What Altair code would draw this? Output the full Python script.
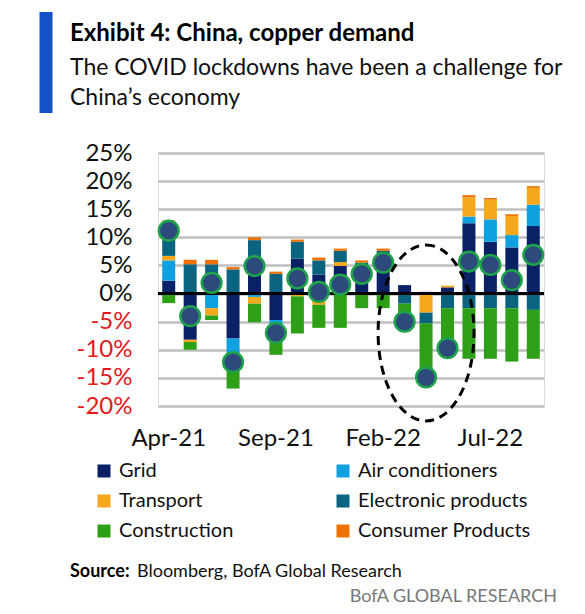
import altair as alt
import pandas as pd

months = ["Apr-21", "May-21", "Jun-21", "Jul-21", "Aug-21", "Sep-21", "Oct-21", "Nov-21", "Dec-21",
          "Jan-22", "Feb-22", "Mar-22", "Apr-22", "May-22", "Jun-22", "Jul-22", "Aug-22", "Sep-22"]
shown_months = ["Apr-21", "Sep-21", "Feb-22", "Jul-22"]

series_names = ["Grid", "Air conditioners", "Transport", "Electronic products", "Construction", "Consumer Products"]
series_colors = ["#0B2166", "#0FA0E0", "#F5A81C", "#0A6480", "#2EA017", "#EE7203"]

grid = [2.3, -8.2, 0.0, -8.0, 4.9, -4.7, 6.2, 3.4, 4.9, 4.3, 6.3, 1.5, 0.3, 1.1, 12.5, 9.2, 8.2, 12.0]
air = [3.6, 0.0, -2.6, -3.0, -0.6, -1.0, 0.0, 0.0, 0.0, 0.0, 0.0, 0.0, 0.0, 0.0, 1.2, 4.0, 2.2, 3.8]
transport = [0.8, -0.4, -1.3, 0.0, -1.2, 0.0, -0.5, -2.0, 0.7, 0.0, 0.0, 0.0, -3.4, 0.3, 3.4, 3.5, 3.4, 3.0]
electronic = [6.0, 5.2, 5.2, 4.3, 4.6, 3.5, 3.0, 2.5, 2.0, 1.2, 1.3, -1.8, -1.9, -2.6, -2.6, -2.6, -2.6, -2.9]
construction = [-1.7, -1.4, -0.8, -5.9, -3.3, -5.2, -6.6, -4.1, -6.1, -2.6, -2.6, -4.7, -9.9, -8.5, -9.0, -9.0, -9.5, -8.7]
consumer = [0.3, 0.8, 0.8, 0.4, 0.5, 0.4, 0.4, 0.5, 0.4, 0.4, 0.4, 0.0, 0.0, 0.0, 0.4, 0.3, 0.3, 0.3]
total = [11.2, -4.0, 1.9, -12.2, 4.9, -7.0, 2.7, 0.3, 1.6, 3.5, 5.5, -5.0, -14.9, -9.7, 5.7, 5.1, 2.4, 6.9]

y_ticks = [-20, -15, -10, -5, 0, 5, 10, 15, 20, 25]

highlight_month = ["Apr-22"]
highlight_value = [-7.0]

title_text = ["Exhibit 4: China, copper demand"]
subtitle_line1 = ["The COVID lockdowns have been a challenge for"]
subtitle_line2 = ["China\u2019s economy"]
source_label = ["Source:"]
source_text = ["Bloomberg, BofA Global Research"]
brand_text = ["BofA GLOBAL RESEARCH"]

FONT = "Lato"

# long table for stacked bars
rows = []
for si, (name, vals) in enumerate(zip(series_names, [grid, air, transport, electronic, construction, consumer])):
    for m, v in zip(months, vals):
        rows.append({"month": m, "series": name, "order": si, "value": v})
bars_df = pd.DataFrame(rows)
total_df = pd.DataFrame({"month": months, "total": total})
hl_df = pd.DataFrame({"month": highlight_month, "value": highlight_value})

x_axis = alt.Axis(values=shown_months, labelAngle=0, ticks=False, domain=False,
                  labelFontSize=24, labelFont=FONT, labelColor="#111111",
                  labelPadding=20, grid=False, labelOverlap=False)
x_scale = alt.Scale(paddingInner=0.4, paddingOuter=0.2)
y_axis = alt.Axis(values=y_ticks, labelExpr="datum.value + '%'", ticks=False, domain=False,
                  labelFontSize=24, labelFont=FONT, labelPadding=26, labelOverlap=False,
                  labelColor={"expr": "datum.value < 0 ? '#E3191C' : '#111111'"},
                  gridColor="#BFBFBF", gridWidth=2.5)
y_scale = alt.Scale(domain=[-20, 25], nice=False, zero=False)

bars = alt.Chart(bars_df).mark_bar(size=13).encode(
    x=alt.X("month:N", sort=months, title=None, scale=x_scale, axis=x_axis),
    y=alt.Y("value:Q", stack="zero", scale=y_scale, title=None, axis=y_axis),
    color=alt.Color("series:N", sort=series_names,
                    scale=alt.Scale(domain=series_names, range=series_colors),
                    legend=alt.Legend(title=None, orient="none", legendX=-64, legendY=308,
                                      direction="horizontal", columns=2, columnPadding=99,
                                      rowPadding=10,
                                      symbolType="square", symbolSize=169, symbolStrokeWidth=0,
                                      labelFontSize=20, labelFont=FONT, labelColor="#111111",
                                      labelOffset=5, labelLimit=300)),
    order=alt.Order("order:Q", sort="ascending"),
)

zero_line = alt.Chart(total_df).mark_rule(color="#000000", strokeWidth=2.5).encode(
    y=alt.datum(0, scale=y_scale, axis=y_axis, title=None)
)

dots = alt.Chart(total_df).mark_circle(size=390, opacity=1, fill="#2C4B7C",
                                       stroke="#1FA34A", strokeWidth=2.5).encode(
    x=alt.X("month:N", sort=months, title=None, scale=x_scale, axis=x_axis),
    y=alt.Y("total:Q", scale=y_scale, title=None, axis=y_axis),
)

ellipse_path = ("M0,-1C0.301,-1,0.545,-0.552,0.545,0C0.545,0.552,0.301,1,0,1"
                "C-0.301,1,-0.545,0.552,-0.545,0C-0.545,-0.552,-0.301,-1,0,-1Z")
ellipse = alt.Chart(hl_df).mark_point(shape=ellipse_path, size=30976, filled=False, opacity=1,
                                      stroke="#000000", strokeWidth=3, strokeDash=[9, 6]).encode(
    x=alt.X("month:N", sort=months, title=None, scale=x_scale, axis=x_axis),
    y=alt.Y("value:Q", scale=y_scale, title=None, axis=y_axis),
)

accent = alt.Chart(pd.DataFrame({"k": [0]})).mark_rule(color="#1450C8", strokeWidth=13).encode(
    x=alt.value(-112), y=alt.value(-141), y2=alt.value(-40)
)


def text_layer(values, x, y, size, weight="normal", color="#111111", align="left"):
    return alt.Chart(pd.DataFrame({"t": values})).mark_text(
        align=align, baseline="alphabetic", fontSize=size, fontWeight=weight, font=FONT, color=color
    ).encode(x=alt.value(x), y=alt.value(y), text="t:N")


title_l = text_layer(title_text, -88, -112, 24, weight="bold", color="#000000")
sub1 = text_layer(subtitle_line1, -88, -78, 23)
sub2 = text_layer(subtitle_line2, -88, -48, 23)
src1 = text_layer(source_label, -88, 424, 18, weight="bold", color="#000000")
src2 = text_layer(source_text, -21, 424, 18)
brand = text_layer(brand_text, 399, 449, 18, color="#777777", align="right")

chart = alt.layer(bars, zero_line, dots, ellipse, accent, title_l, sub1, sub2, src1, src2, brand).properties(
    width=386, height=253,
    padding={"left": 150, "top": 145, "right": 33, "bottom": 200},
    autosize=alt.AutoSizeParams(type="none"),
).configure_view(strokeWidth=0).configure_axisY(labelOverlap=False).configure(background="#FFFFFF")

chart.save("out.html", embed_options={"renderer": "svg", "actions": False})
